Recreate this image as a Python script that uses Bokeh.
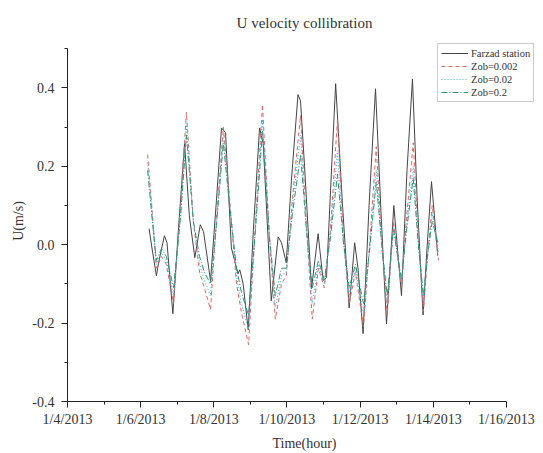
from bokeh.plotting import figure
from bokeh.models import Range1d, FixedTicker, Legend, LegendItem
from bokeh.embed import file_html
from bokeh.resources import INLINE

# ---- data (day of January 2013, velocity m/s) ----
obs_day = [6.23, 6.30, 6.43, 6.50, 6.65, 6.72, 6.88, 7.03, 7.20, 7.33, 7.48, 7.63, 7.72,
           7.91, 8.07, 8.21, 8.32, 8.48, 8.66, 8.71, 8.80, 8.94, 9.08, 9.25, 9.35, 9.57,
           9.76, 9.85, 9.98, 10.12, 10.30, 10.37, 10.48, 10.67, 10.85, 10.99, 11.08,
           11.19, 11.33, 11.51, 11.70, 11.85, 11.94, 12.08, 12.25, 12.42, 12.58, 12.72,
           12.92, 13.13, 13.28, 13.43, 13.56, 13.72, 13.84, 13.95, 14.03, 14.12]
obs_u = [0.041, -0.003, -0.079, -0.041, 0.023, 0.005, -0.176, 0.036, 0.258, 0.074, -0.033,
         0.051, 0.033, -0.092, 0.112, 0.298, 0.286, -0.008, -0.074, -0.064, -0.099, -0.217,
         0.036, 0.298, 0.258, -0.143, 0.020, 0.005, -0.046, 0.163, 0.383, 0.367, 0.200,
         -0.112, 0.028, -0.092, -0.084, 0.138, 0.411, 0.112, -0.161, 0.005, -0.059, -0.227,
         0.112, 0.398, 0.061, -0.202, 0.100, -0.130, 0.189, 0.423, 0.112, -0.179, 0.010,
         0.161, 0.074, -0.028]

sim_day = [6.19, 6.32, 6.43, 6.57, 6.70, 6.90, 7.09, 7.25, 7.44, 7.61, 7.74, 7.91, 8.07,
           8.26, 8.43, 8.62, 8.75, 8.95, 9.14, 9.33, 9.52, 9.68, 9.85, 9.98, 10.15, 10.37,
           10.53, 10.69, 10.86, 11.02, 11.19, 11.38, 11.54, 11.70, 11.87, 12.09, 12.25,
           12.44, 12.61, 12.74, 12.91, 13.13, 13.26, 13.45, 13.59, 13.73, 13.84, 13.97, 14.14]
u_zob_0002 = [0.23, 0.08, -0.06, -0.03, -0.05, -0.15, 0.10, 0.338, 0.06, -0.07, -0.11,
              -0.165, 0.06, 0.30, 0.12, -0.10, -0.17, -0.255, 0.06, 0.358, 0.02, -0.19,
              -0.10, -0.08, 0.12, 0.33, 0.05, -0.19, -0.06, -0.11, 0.04, 0.32, 0.02, -0.15,
              -0.07, -0.21, -0.01, 0.25, -0.02, -0.18, 0.06, -0.11, 0.06, 0.26, 0.02, -0.17,
              -0.03, 0.10, -0.04]
u_zob_002 = [0.21, 0.07, -0.05, -0.02, -0.04, -0.13, 0.08, 0.31, 0.06, -0.05, -0.09,
             -0.13, 0.05, 0.28, 0.11, -0.08, -0.15, -0.215, 0.05, 0.32, 0.02, -0.16,
             -0.08, -0.07, 0.10, 0.28, 0.04, -0.15, -0.05, -0.10, 0.03, 0.24, 0.01, -0.13,
             -0.06, -0.18, -0.02, 0.19, -0.02, -0.15, 0.05, -0.10, 0.04, 0.20, 0.01, -0.15,
             -0.03, 0.08, -0.02]
u_zob_02 = [0.19, 0.06, -0.04, -0.01, -0.03, -0.11, 0.07, 0.28, 0.06, -0.03, -0.07,
            -0.10, 0.05, 0.26, 0.10, -0.06, -0.12, -0.18, 0.04, 0.29, 0.02, -0.13,
            -0.06, -0.06, 0.08, 0.23, 0.04, -0.11, -0.04, -0.09, 0.02, 0.18, 0.01, -0.11,
            -0.05, -0.15, -0.02, 0.16, -0.02, -0.13, 0.04, -0.09, 0.03, 0.17, 0.00, -0.13,
            -0.03, 0.06, 0.00]

x_ticks = [4, 6, 8, 10, 12, 14, 16]
x_tick_labels = ["1/4/2013", "1/6/2013", "1/8/2013", "1/10/2013",
                 "1/12/2013", "1/14/2013", "1/16/2013"]
x_minor = [5, 7, 9, 11, 13, 15]
y_ticks = [-0.4, -0.2, 0.0, 0.2, 0.4]
y_tick_labels = ["-0.4", "-0.2", "0.0", "0.2", "0.4"]
y_minor = [-0.3, -0.1, 0.1, 0.3, 0.5]
series_names = ["Farzad station", "Zob=0.002", "Zob=0.02", "Zob=0.2"]

FONT = "Liberation Serif"
TXT = "#333333"

p = figure(width=543, height=453, output_backend="svg", toolbar_location=None,
           x_range=Range1d(4, 16.957), y_range=Range1d(-0.4, 0.5211),
           min_border_left=67, min_border_right=2, min_border_top=40,
           min_border_bottom=51)
p.outline_line_color = None
p.grid.visible = False
p.background_fill_color = "white"
p.border_fill_color = "white"

p.title.text = "U velocity collibration"
p.title.align = "center"
p.title.text_font = FONT
p.title.text_font_size = "15px"
p.title.text_font_style = "normal"
p.title.text_color = TXT
p.title.offset = 8
p.title.standoff = 20

r_obs = p.line(obs_day, obs_u, line_color="#444444", line_width=1)
r1 = p.line(sim_day, u_zob_0002, line_color="#e06464", line_dash="4 3", line_width=1)
r2 = p.line(sim_day, u_zob_002, line_color="#45b8d8", line_dash="1 2", line_width=1.2)
r3 = p.line(sim_day, u_zob_02, line_color="#2e9474", line_dash="6 2 1 2", line_width=1)

for ax in (p.xaxis[0], p.yaxis[0]):
    ax.axis_line_color = "#222222"
    ax.major_tick_line_color = "#222222"
    ax.minor_tick_line_color = "#222222"
    ax.major_tick_in = 0
    ax.major_tick_out = 6
    ax.minor_tick_in = 0
    ax.minor_tick_out = 3
    ax.major_label_text_font = FONT
    ax.major_label_text_font_size = "14px"
    ax.major_label_text_color = TXT
    ax.axis_label_text_font = FONT
    ax.axis_label_text_font_size = "14px"
    ax.axis_label_text_font_style = "normal"
    ax.axis_label_text_color = TXT

xa = p.xaxis[0]
xa.ticker = FixedTicker(ticks=x_ticks, minor_ticks=x_minor)
xa.major_label_overrides = {t: l for t, l in zip(x_ticks, x_tick_labels)}
xa.bounds = (4, 16)
xa.axis_label = "Time(hour)"
xa.major_label_standoff = 4
xa.axis_label_standoff = 6

ya = p.yaxis[0]
ya.ticker = FixedTicker(ticks=y_ticks, minor_ticks=y_minor)
ya.major_label_overrides = {t: l for t, l in zip(y_ticks, y_tick_labels)}
ya.bounds = (-0.4, 0.5)
ya.axis_label = "U(m/s)"
ya.major_label_standoff = 7
ya.axis_label_standoff = 3

legend = Legend(items=[LegendItem(label=n, renderers=[r])
                       for n, r in zip(series_names, [r_obs, r1, r2, r3])],
                location=(370, 299))
legend.label_text_font = FONT
legend.label_text_font_size = "10.5px"
legend.label_text_color = TXT
legend.glyph_width = 27
legend.glyph_height = 12
legend.label_height = 12
legend.spacing = 1
legend.padding = 3
legend.margin = 0
legend.label_standoff = 3
legend.border_line_color = "#999999"
legend.border_line_width = 1
legend.background_fill_color = "white"
legend.background_fill_alpha = 1.0
p.add_layout(legend)

open("out.html", "w").write(file_html(p, INLINE))
